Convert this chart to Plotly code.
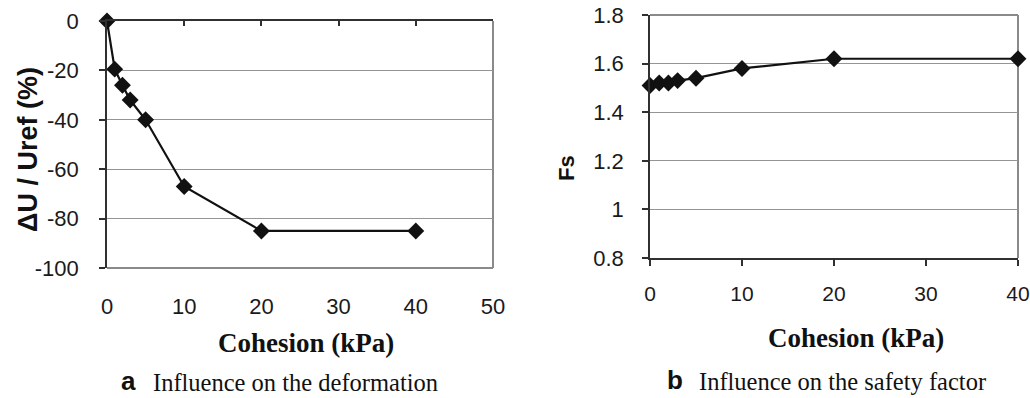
import plotly.graph_objects as go

# Data
cohesion = [0, 1, 2, 3, 5, 10, 20, 40]
delta_u = [0, -19.5, -26, -32, -40, -67, -85, -85]
fs = [1.51, 1.52, 1.52, 1.53, 1.54, 1.58, 1.62, 1.62]

left_xticks = [0, 10, 20, 30, 40, 50]
left_yticks = [0, -20, -40, -60, -80, -100]
left_ytext = ["0", "-20", "-40", "-60", "-80", "-100"]
right_xticks = [0, 10, 20, 30, 40]
right_yticks = [0.8, 1, 1.2, 1.4, 1.6, 1.8]
right_ytext = ["0.8", "1", "1.2", "1.4", "1.6", "1.8"]

W, H = 1030, 398
AX = "#303030"
GRID = "#959595"
TICKF = dict(family="Liberation Sans, Arial", size=22, color="#1a1a1a")
TICKF_RX = dict(family="Liberation Sans, Arial", size=21, color="#1a1a1a")

def px_x(p):
    return p / W

def px_y(p):
    return 1 - p / H

fig = go.Figure()

line_style = dict(color="#111111", width=2.2)
mk = dict(symbol="diamond", size=13, color="#111111", line=dict(width=0))

fig.add_trace(go.Scatter(x=cohesion, y=delta_u, mode="lines+markers",
                         line=line_style, marker=mk, xaxis="x", yaxis="y",
                         showlegend=False, cliponaxis=False))
fig.add_trace(go.Scatter(x=[], y=[], xaxis="x3", yaxis="y", showlegend=False))
fig.add_trace(go.Scatter(x=cohesion, y=fs, mode="lines+markers",
                         line=line_style, marker=mk, xaxis="x2", yaxis="y2",
                         showlegend=False, cliponaxis=False))

# panel pixel boxes
lx0, lx1, ly0, ly1 = 107, 493, 21, 268
rx0, rx1, ry0, ry1 = 650, 1018, 15, 258

fig.update_layout(
    template="none",
    width=W, height=H, margin=dict(l=0, r=0, t=0, b=0, autoexpand=False),
    paper_bgcolor="white", plot_bgcolor="white",
    xaxis=dict(domain=[px_x(lx0), px_x(lx1)], range=[0, 50], anchor="y",
               side="top", tickvals=left_xticks, ticks="inside", ticklen=5,
               tickcolor=AX, tickwidth=1.5, showticklabels=False,
               showline=True, linecolor=AX, linewidth=1.5, showgrid=False,
               zeroline=False, automargin=False),
    xaxis3=dict(range=[0, 50], overlaying="x", anchor="y", side="bottom",
                tickvals=left_xticks, ticks="", showline=False, showgrid=False,
                zeroline=False, tickfont=TICKF, ticklabelstandoff=23,
                automargin=False),
    yaxis=dict(domain=[px_y(ly1), px_y(ly0)], range=[-100, 0], anchor="x",
               tickvals=left_yticks, ticktext=left_ytext, ticks="outside",
               ticklen=6, tickcolor=AX, tickwidth=1.5, showline=True,
               linecolor=AX, linewidth=1.5, showgrid=True, gridcolor=GRID,
               gridwidth=1, zeroline=False, tickfont=TICKF,
               ticklabelstandoff=16, automargin=False),
    xaxis2=dict(domain=[px_x(rx0), px_x(rx1)], range=[0, 40], anchor="y2",
                tickvals=right_xticks, ticks="outside", ticklen=6,
                tickcolor=AX, tickwidth=1.5, showline=True, linecolor=AX,
                linewidth=1.5, showgrid=False, zeroline=False, tickfont=TICKF_RX,
                ticklabelstandoff=10, automargin=False),
    yaxis2=dict(domain=[px_y(ry1), px_y(ry0)], range=[0.8, 1.8], anchor="x2",
                tickvals=right_yticks, ticktext=right_ytext, ticks="outside",
                ticklen=6, tickcolor=AX, tickwidth=1.5, showline=True,
                linecolor=AX, linewidth=1.5, showgrid=True, gridcolor=GRID,
                gridwidth=1, zeroline=False, tickfont=TICKF,
                ticklabelstandoff=14, automargin=False),
)

BORDER = "#8a8a8a"
fig.add_shape(type="line", xref="x domain", yref="y domain", x0=0, x1=1, y0=0, y1=0,
              line=dict(color=BORDER, width=2), layer="below")
fig.add_shape(type="line", xref="x domain", yref="y domain", x0=1, x1=1, y0=0, y1=1,
              line=dict(color=BORDER, width=2), layer="below")
fig.add_shape(type="line", xref="x2 domain", yref="y2 domain", x0=0, x1=1, y0=1, y1=1,
              line=dict(color=BORDER, width=2), layer="below")
fig.add_shape(type="line", xref="x2 domain", yref="y2 domain", x0=1, x1=1, y0=0, y1=1,
              line=dict(color=BORDER, width=2), layer="below")

def ann(text, x, y, font, angle=0, xanchor="center", yanchor="middle"):
    fig.add_annotation(text=text, x=px_x(x), y=px_y(y), xref="paper", yref="paper",
                       showarrow=False, font=font, textangle=angle,
                       xanchor=xanchor, yanchor=yanchor, borderpad=0)

BOLD_SANS = dict(family="Liberation Sans, Arial", size=27, color="#111111")
ann("<b>ΔU / Uref (%)</b>", 28, 150, BOLD_SANS, angle=-90)
ann("<b>Fs</b>", 566, 168, dict(family="Liberation Sans, Arial", size=22, color="#111111"), angle=-90)

SERIF_B = dict(family="Liberation Serif, Times New Roman", size=27, color="#111111")
ann("<b>Cohesion (kPa)</b>", 306, 343, SERIF_B)
ann("<b>Cohesion (kPa)</b>", 856, 338, SERIF_B)

CAP_L = dict(family="Liberation Sans, Arial", size=26, color="#111111")
CAP_T = dict(family="Liberation Serif, Times New Roman", size=24.5, color="#111111")
ann("<b>a</b>", 137, 397, CAP_L, xanchor="right", yanchor="bottom")
ann("Influence on the deformation", 152, 397, CAP_T, xanchor="left", yanchor="bottom")
ann("<b>b</b>", 684, 380, CAP_L, xanchor="right")
ann("Influence on the safety factor", 698, 381, CAP_T, xanchor="left")

fig.write_html("out.html")
